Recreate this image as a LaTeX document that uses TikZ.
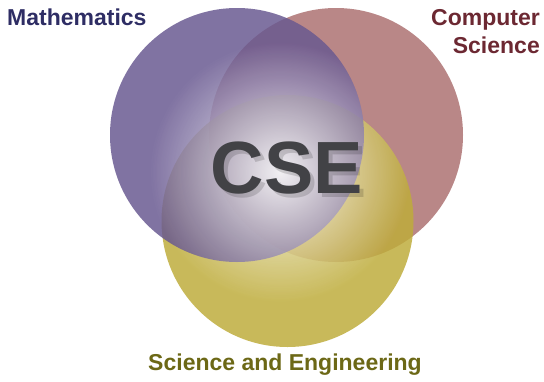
\documentclass[tikz,border=0pt]{standalone}
\usepackage{fontspec}
\setmainfont{Liberation Sans}
\usetikzlibrary{fadings}
\definecolor{mathPurple}{RGB}{104,88,144}
\definecolor{compRed}{RGB}{172,112,112}
\definecolor{engYellow}{RGB}{190,172,58}
\definecolor{mathText}{RGB}{46,45,100}
\definecolor{compText}{RGB}{108,40,50}
\definecolor{engText}{RGB}{108,104,22}
\definecolor{cseGray}{RGB}{66,66,70}
\tikzfading[name=glowFade, inner color=transparent!10, outer color=transparent!100]

\begin{document}
\begin{tikzpicture}[x=1pt,y=-1pt,
    label/.style={font=\fontsize{23}{28}\selectfont\bfseries, inner sep=0pt},
    cse/.style={font=\fontsize{74}{80}\selectfont\bfseries, inner sep=0pt, anchor=base},
    disc/.style={fill opacity=0.84}]
    \useasboundingbox (0,0) rectangle (544,381);
    \fill[compRed,disc] (336,135) circle (127pt);
    \fill[engYellow,disc] (287.5,221) circle (126pt);
    \fill[mathPurple,disc] (237,135) circle (127pt);
    % soft light in the middle
    \begin{scope}
        \clip (237,135) circle (127pt) (287.5,221) circle (126pt);
        \fill[white, path fading=glowFade] (280,172) circle (130pt);
    \end{scope}
    \node[cse, text=black, opacity=0.15] (shadow) at (291,197) {CSE};
    \node[cse, text=cseGray] (cse) at (287,193) {CSE};
    \node[label, text=mathText, anchor=base west] (math) at (7,25) {Mathematics};
    \node[label, text=compText, anchor=north east, align=right] (comp) at (540,9) {Computer\\Science};
    \node[label, text=engText, anchor=base] (eng) at (285,370) {Science and Engineering};
\end{tikzpicture}
\end{document}
